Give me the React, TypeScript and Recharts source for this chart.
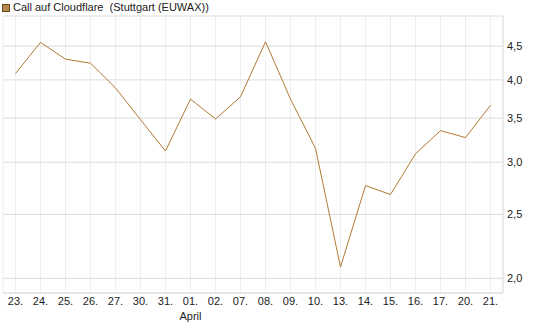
import { LineChart, Line, XAxis, YAxis, CartesianGrid } from "recharts";

// x categories (trading days) and month captions under them
const days = ["23.", "24.", "25.", "26.", "27.", "30.", "31.", "01.", "02.", "07.", "08.", "09.", "10.", "13.", "14.", "15.", "16.", "17.", "20.", "21."];
const months = ["", "", "", "", "", "", "", "April", "", "", "", "", "", "", "", "", "", "", "", ""];
// close prices
const prices = [4.09, 4.56, 4.3, 4.24, 3.89, 3.48, 3.12, 3.74, 3.49, 3.77, 4.57, 3.74, 3.15, 2.08, 2.765, 2.68, 3.09, 3.35, 3.27, 3.66];
const yTicks = [2.0, 2.5, 3.0, 3.5, 4.0, 4.5];

const data = days.map((d, i) => ({ day: d, month: months[i], price: prices[i] }));

const FONT = "Arial, 'Liberation Sans', sans-serif";

function DayTick({ x, y, payload, index }: any) {
  const month = months[payload?.index ?? index] ?? "";
  return (
    <g>
      <text x={x} y={y} dy="0.71em" textAnchor="middle" fontSize={11} fontFamily={FONT} fill="#222">
        {payload.value}
      </text>
      {month && (
        <text x={x} y={y + 15} dy="0.71em" textAnchor="middle" fontSize={11} fontFamily={FONT} fill="#222">
          {month}
        </text>
      )}
    </g>
  );
}

export default function App() {
  return (
    <div style={{ position: "relative", width: 545, height: 327 }}>
      <style>{`body{margin:0}`}</style>
      {/* legend */}
      <div
        style={{
          position: "absolute",
          left: 2,
          top: 2,
          fontFamily: FONT,
          fontSize: 11,
          color: "#222",
          whiteSpace: "pre",
          display: "flex",
          alignItems: "center",
          lineHeight: "11px",
        }}
      >
        <span style={{ display: "inline-block", width: 6, height: 6, background: "#b5884f", border: "1px solid #6b4a22", marginRight: 3 }} />
        {"Call auf Cloudflare  (Stuttgart (EUWAX))"}
      </div>
      <LineChart width={545} height={327} data={data} margin={{ top: 16, right: 2, bottom: 4, left: 3 }}>
        <CartesianGrid xAxisId="x" yAxisId="y" horizontal={false} stroke="#eeeeee" />
        <CartesianGrid xAxisId="x" yAxisId="y" vertical={false} stroke="#dddddd" />
        <XAxis
          xAxisId="x"
          dataKey="day"
          scale="band"
          interval={0}
          height={30}
          tickLine={false}
          tickSize={0}
          tickMargin={4}
          axisLine={{ stroke: "#dddddd" }}
          tick={<DayTick />}
        />
        <XAxis xAxisId="top" dataKey="day" scale="band" orientation="top" height={0} tick={false} tickLine={false} axisLine={{ stroke: "#dddddd" }} />
        <YAxis
          yAxisId="y"
          orientation="right"
          width={40}
          scale="log"
          domain={[1.9, 5]}
          allowDataOverflow
          ticks={yTicks}
          tickLine={false}
          tickSize={0}
          tickMargin={4}
          axisLine={{ stroke: "#dddddd" }}
          tick={{ fontSize: 11, fontFamily: FONT, fill: "#222", textAnchor: "start" }}
          tickFormatter={(v: number) => v.toFixed(1).replace(".", ",")}
        />
        <YAxis yAxisId="left" orientation="left" width={0} tick={false} tickLine={false} axisLine={{ stroke: "#dddddd" }} />
        <Line
          xAxisId="x"
          yAxisId="y"
          type="linear"
          dataKey="price"
          stroke="#b07a35"
          strokeWidth={1}
          dot={false}
          isAnimationActive={false}
        />
      </LineChart>
    </div>
  );
}
